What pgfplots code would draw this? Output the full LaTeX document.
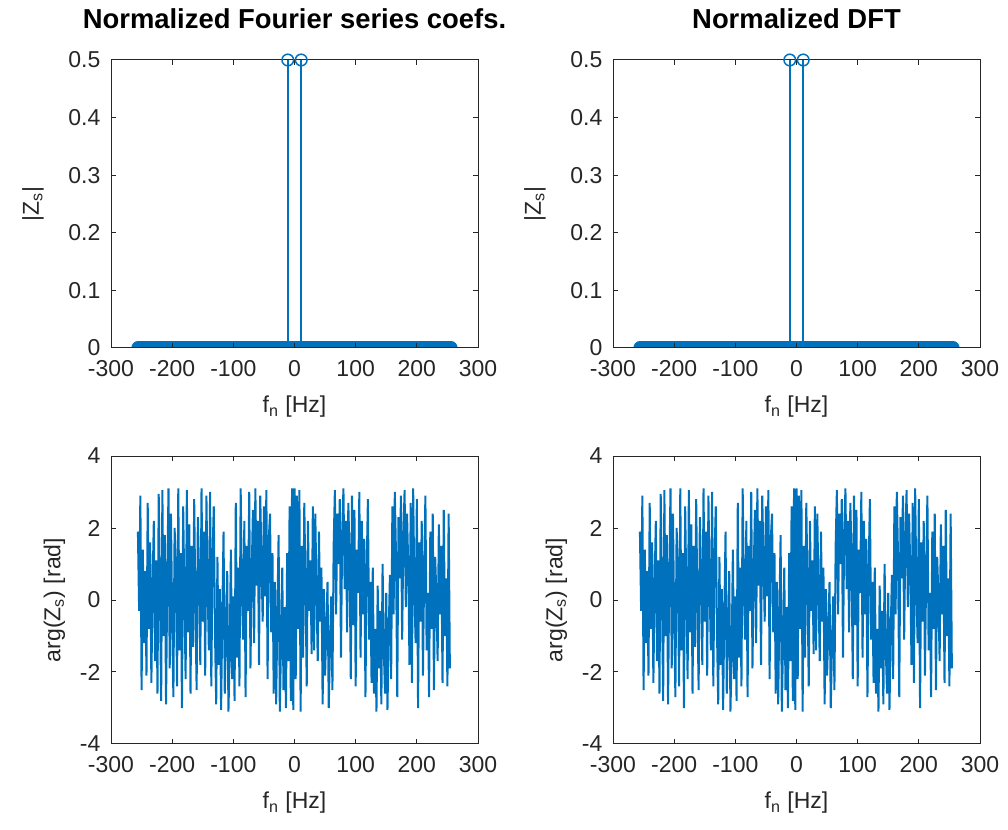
\documentclass[border=0pt]{standalone}
\usepackage{pgfplots}
\usepackage{pgfplotstable}
\pgfplotsset{compat=1.18}
\usepackage{fontspec}
\setmainfont{Liberation Sans}
\definecolor{oblue}{RGB}{0,114,189}
\definecolor{axgray}{RGB}{38,38,38}

\pgfplotstableread{
x y
-256 1.90
-254 -0.30
-252 2.90
-250 -2.50
-248 1.40
-246 -1.20
-244 0.80
-242 -2.10
-240 2.70
-238 -0.80
-236 1.60
-234 -2.30
-232 0.40
-230 2.20
-228 -1.70
-226 1.10
-224 -2.60
-222 2.95
-220 0.20
-218 -2.80
-216 3.05
-214 -1.00
-212 1.80
-210 -2.90
-208 0.60
-206 3.10
-204 -1.90
-202 2.40
-200 -0.50
-198 -2.70
-196 2.00
-194 0.90
-192 -2.40
-190 3.10
-188 -1.40
-186 1.30
-184 -3.00
-182 2.60
-180 0.10
-178 -2.20
-176 3.05
-174 -0.90
-172 2.10
-170 -2.60
-168 1.50
-166 -1.30
-164 2.80
-162 -0.20
-160 -2.50
-158 2.30
-156 0.70
-154 -1.80
-152 3.10
-150 -0.60
-148 1.90
-146 -2.10
-144 2.90
-142 0.30
-140 -1.40
-138 3.00
-136 -2.40
-134 1.20
-132 2.60
-130 -0.90
-128 -2.90
-126 1.20
-124 -1.80
-122 0.30
-120 -3.05
-118 -0.40
-116 1.90
-114 -2.60
-112 -0.90
-110 0.80
-108 -3.10
-106 -1.50
-104 1.40
-102 -2.20
-100 0.10
-98 -2.80
-96 2.70
-94 -1.60
-92 0.90
-90 -2.40
-88 3.10
-86 0.20
-84 -1.10
-82 2.20
-80 -2.70
-78 1.50
-76 -0.30
-74 3.00
-72 -1.90
-70 0.70
-68 2.50
-66 -1.20
-64 3.10
-62 0.40
-60 2.20
-58 -1.80
-56 2.90
-54 1.10
-52 -0.60
-50 2.60
-48 0.10
-46 3.05
-44 -2.20
-42 1.70
-40 2.40
-38 -0.90
-36 1.30
-34 -2.60
-32 0.50
-30 -2.90
-28 -0.40
-26 1.80
-24 -3.10
-22 -1.20
-20 0.90
-18 -2.50
-16 -0.20
-14 -3.00
-12 1.30
-10 -1.70
-8 2.60
-6 -2.80
-4 3.10
-2 -3.05
0 3.10
2 -2.20
4 2.90
6 -0.80
8 3.05
10 -3.10
12 1.50
14 -1.60
16 2.70
18 0.40
20 -2.40
22 2.20
24 -0.30
26 1.10
28 -1.50
30 2.60
32 -1.40
34 2.40
36 0.20
38 -1.70
40 1.90
42 -0.60
44 0.90
46 -2.90
48 0.30
50 -2.10
52 -0.80
54 0.50
56 -3.00
58 -1.30
60 0.10
62 -2.50
64 1.50
66 3.05
68 -0.40
70 2.40
72 1.00
74 2.80
76 -1.60
78 1.90
80 3.10
82 0.30
84 2.20
86 -0.90
88 2.70
90 1.20
92 -2.20
94 2.90
96 -0.70
98 2.50
100 -2.40
102 1.40
104 0.20
106 3.00
108 -1.60
110 2.20
112 -0.40
114 1.70
116 -2.70
118 0.90
120 2.80
122 -1.10
124 0.50
126 -2.30
128 0.90
130 -2.60
132 -0.80
134 -3.10
136 0.40
138 -1.90
140 -0.30
142 -2.90
144 1.00
146 -1.40
148 -2.60
150 0.20
152 -3.05
154 -0.90
156 0.70
158 -2.20
160 2.60
162 -0.40
164 3.00
166 1.20
168 -2.70
170 2.30
172 0.60
174 2.90
176 -1.10
178 1.80
180 3.05
182 -0.20
184 2.40
186 0.90
188 -1.80
190 2.70
192 -2.30
194 3.10
196 0.30
198 -1.20
200 2.80
202 -3.00
204 1.60
206 -0.60
208 2.20
210 -2.10
212 0.80
214 2.90
216 -1.40
218 0.20
220 -2.70
222 1.90
224 -0.80
226 2.40
228 -2.50
230 1.20
232 0.10
234 -1.70
236 2.10
238 -0.40
240 1.50
242 -2.30
244 2.50
246 -1.00
248 0.60
250 -2.40
252 2.40
254 -1.90
}\phasetable

\pgfplotstableread{
x y
-11 0.5
11 0.5
}\stemtable

\pgfplotsset{
  octave/.style={
    scale only axis,
    width=183.5pt, height=144pt,
    anchor=south west,
    axis on top,
    axis line style={axgray, line width=0.5pt},
    every tick/.style={axgray, line width=0.5pt},
    major tick length=2.6pt,
    tick align=inside,
    xtick pos=both, ytick pos=both,
    xmin=-300, xmax=300,
    xtick={-300,-200,...,300},
    tick label style={font=\fontsize{11.5}{13}\selectfont, text=axgray, inner ysep=0.5pt},
    xticklabel style={yshift=-5.5pt},
    yticklabel style={xshift=-1.8pt},
    label style={font=\fontsize{11.5}{13}\selectfont, text=axgray},
    xlabel style={yshift=-5.5pt},
    /pgf/number format/assume math mode=true,
    /pgf/number format/fixed,
    scaled ticks=false,
    xlabel={f\textsubscript{n} [Hz]},
    title style={at={(0.5,1)}, anchor=south, yshift=6pt, font=\bfseries\fontsize{13.7}{16}\selectfont},
  },
  magtop/.style={
    ymin=0, ymax=0.5,
    ytick={0,0.1,...,0.5},
    ylabel={|Z\textsubscript{s}|},
    ylabel style={yshift=5.5pt},
  },
  phasebot/.style={
    ymin=-4, ymax=4,
    ytick={-4,-2,...,4},
    ylabel={arg(Z\textsubscript{s}) [rad]},
    ylabel style={yshift=0.5pt},
  },
  stem/.style={draw=oblue, color=oblue, ycomb, line width=0.75pt, mark=o, mark size=2.9pt, mark options={draw=oblue, line width=0.75pt}},
}

\begin{document}
\begin{tikzpicture}
\useasboundingbox (0,0) rectangle (504pt,415pt);
% top left
\begin{axis}[octave, magtop, at={(55.5pt,241pt)}, title={Normalized Fourier series coefs.}]
\addplot[draw=oblue, line width=6.5pt, line cap=round] coordinates {(-256,0) (256,0)};
\addplot[stem] table[x=x,y=y] {\stemtable};
\end{axis}
% top right
\begin{axis}[octave, magtop, at={(306.5pt,241pt)}, title={Normalized DFT}]
\addplot[draw=oblue, line width=6.5pt, line cap=round] coordinates {(-256,0) (256,0)};
\addplot[stem] table[x=x,y=y] {\stemtable};
\end{axis}
% bottom left
\begin{axis}[octave, phasebot, at={(55.5pt,43pt)}]
\addplot[draw=oblue, line width=1pt, no marks] table[x=x,y=y] {\phasetable};
\end{axis}
% bottom right
\begin{axis}[octave, phasebot, at={(306.5pt,43pt)}]
\addplot[draw=oblue, line width=1pt, no marks] table[x=x,y=y] {\phasetable};
\end{axis}
\end{tikzpicture}
\end{document}
